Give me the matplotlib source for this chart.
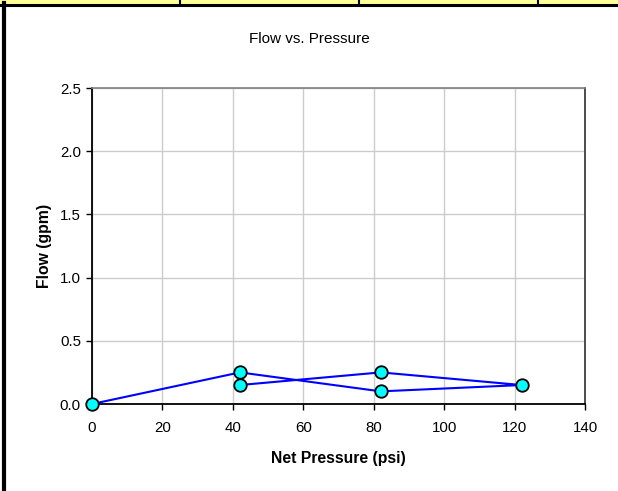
import matplotlib
matplotlib.use("Agg")
import matplotlib.pyplot as plt
from matplotlib.patches import Rectangle
from matplotlib.lines import Line2D

plt.rcParams['font.family'] = ['Liberation Sans', 'DejaVu Sans']

# Measured flow at each net pressure, in test order
net_pressure = [0, 42, 82, 122, 82, 42]
flow_gpm = [0.0, 0.25, 0.10, 0.15, 0.25, 0.15]

x_ticks = [0, 20, 40, 60, 80, 100, 120, 140]
y_ticks = [0.0, 0.5, 1.0, 1.5, 2.0, 2.5]

W, H = 618, 491
fig = plt.figure(figsize=(W / 100, H / 100), dpi=100)
fig.patch.set_facecolor('white')

# Spreadsheet cell strip along the top and the sheet border on the left
fig.add_artist(Rectangle((0, 1 - 4 / H), 1, 4 / H, transform=fig.transFigure,
                         facecolor='#FFFF99', edgecolor='none'))
fig.add_artist(Line2D([0, 1], [1 - 4.5 / H, 1 - 4.5 / H], transform=fig.transFigure,
                      color='black', lw=2.2))
for xd in [180, 359, 538]:
    fig.add_artist(Line2D([xd / W, xd / W], [1 - 4 / H, 1], transform=fig.transFigure,
                          color='black', lw=1.5))
fig.add_artist(Line2D([4 / W, 4 / W], [0, 1 - 3 / H], transform=fig.transFigure,
                      color='black', lw=3))

ax = fig.add_axes([92 / W, 1 - 404 / H, (585 - 92) / W, (404 - 88) / H])
ax.plot(net_pressure, flow_gpm, color='#0000FF', lw=1.5, marker='o',
        markersize=9, markerfacecolor='#00FFFF', markeredgecolor='black',
        markeredgewidth=1.3, clip_on=False, zorder=5)

ax.set_xlim(0, 140)
ax.set_ylim(0, 2.5)
ax.set_xticks(x_ticks)
ax.set_yticks(y_ticks)
ax.set_xticklabels([str(v) for v in x_ticks], fontsize=10.8)
ax.set_yticklabels([f"{v:.1f}" for v in y_ticks], fontsize=10.8)
ax.tick_params(direction='out', length=4, width=1, color='black')
ax.tick_params(axis='x', pad=8)
ax.tick_params(axis='y', pad=4)
ax.grid(True, color='#CCCCCC', lw=1)
ax.set_axisbelow(True)
for side in ['left', 'bottom']:
    ax.spines[side].set_linewidth(1.3)
    ax.spines[side].set_color('black')
ax.spines['top'].set_color('#808080')
ax.spines['top'].set_linewidth(1.2)
ax.spines['right'].set_color('#303030')
ax.spines['right'].set_linewidth(1.2)

ax.set_xlabel('Net Pressure (psi)', fontsize=11.3, fontweight='bold', labelpad=12)
ax.set_ylabel('Flow (gpm)', fontsize=11.3, fontweight='bold', labelpad=5.5)

fig.text(0.5, 1 - 39 / H, 'Flow vs. Pressure', ha='center', va='center', fontsize=11)

fig.savefig('out.png', dpi=100)
